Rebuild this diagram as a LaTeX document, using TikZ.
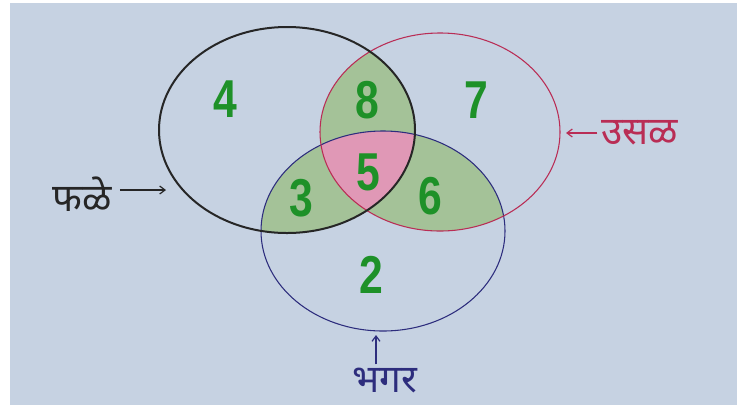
\documentclass[tikz,border=0pt]{standalone}
\usepackage{fontspec}
\setmainfont{Noto Sans}
\newfontfamily\devfont[Script=Devanagari]{Noto Sans}
\newfontfamily\numfont{Liberation Sans}
\usetikzlibrary{arrows.meta}
\usepackage{xcolor}

\definecolor{paper}{RGB}{198,210,226}
\definecolor{pairgreen}{RGB}{164,194,152}
\definecolor{triplepink}{RGB}{224,152,182}
\definecolor{numgreen}{RGB}{30,145,40}
\definecolor{usalred}{RGB}{185,45,85}
\definecolor{bhagarblue}{RGB}{45,45,125}

\tikzset{
  num/.style={font=\numfont\bfseries\fontsize{40}{40}\selectfont, text=numgreen, inner sep=0pt, xscale=0.8},
  setlbl/.style={font=\devfont\fontsize{29}{29}\selectfont, inner sep=0pt},
  lblarrow/.style={-{Straight Barb[length=4pt,width=6pt]}, line width=0.9pt}
}

\begin{document}
\begin{tikzpicture}[x=0.75pt,y=0.75pt,yscale=-1,xscale=1]
\useasboundingbox (0,0) rectangle (737,408);
% paper
\fill[white] (0,0) rectangle (737,408);
\fill[paper] (10,3) rectangle (737,405);

\def\phaleset{(287,130) ellipse [x radius=128, y radius=103]}
\def\usalset{(440,132) ellipse [x radius=120, y radius=99]}
\def\bhagarset{(383,231) ellipse [x radius=122, y radius=100]}

% two-set overlaps
\begin{scope}
\clip \phaleset;
\fill[pairgreen] \usalset;
\fill[pairgreen] \bhagarset;
\end{scope}
\begin{scope}
\clip \usalset;
\fill[pairgreen] \bhagarset;
\end{scope}
% three-set overlap
\begin{scope}
\clip \phaleset;
\clip \usalset;
\fill[triplepink] \bhagarset;
\end{scope}

% circles
\draw[bhagarblue, line width=0.8pt] \bhagarset;
\draw[usalred, line width=0.8pt] \usalset;
\draw[black!85, line width=1.5pt] \phaleset;

% region numbers
\node[num] (n4) at (225,99) {4};
\node[num] (n8) at (367,100) {8};
\node[num] (n7) at (476,100) {7};
\node[num] (n5) at (368,172) {5};
\node[num] (n3) at (301,198) {3};
\node[num] (n6) at (430,196) {6};
\node[num] (n2) at (371,275) {2};

% set labels
\node[setlbl, text=black!85] (phale) at (82,194) {फळे};
\coordinate (phaletip) at (166,190);
\draw[lblarrow, black!85] (phale.east |- phaletip) ++(8,0) -- (phaletip);

\node[setlbl, text=usalred] (usal) at (640,133) {उसळ};
\coordinate (usaltip) at (566,133);
\draw[lblarrow, usalred] (usal.west |- usaltip) ++(-4,0) -- (usaltip);

\node[setlbl, text=bhagarblue] (bhagar) at (385,381) {भगर};
\coordinate (bhagartip) at (376,335);
\draw[lblarrow, bhagarblue] (bhagartip |- bhagar.north) ++(0,-4) -- (bhagartip);

\end{tikzpicture}
\end{document}
